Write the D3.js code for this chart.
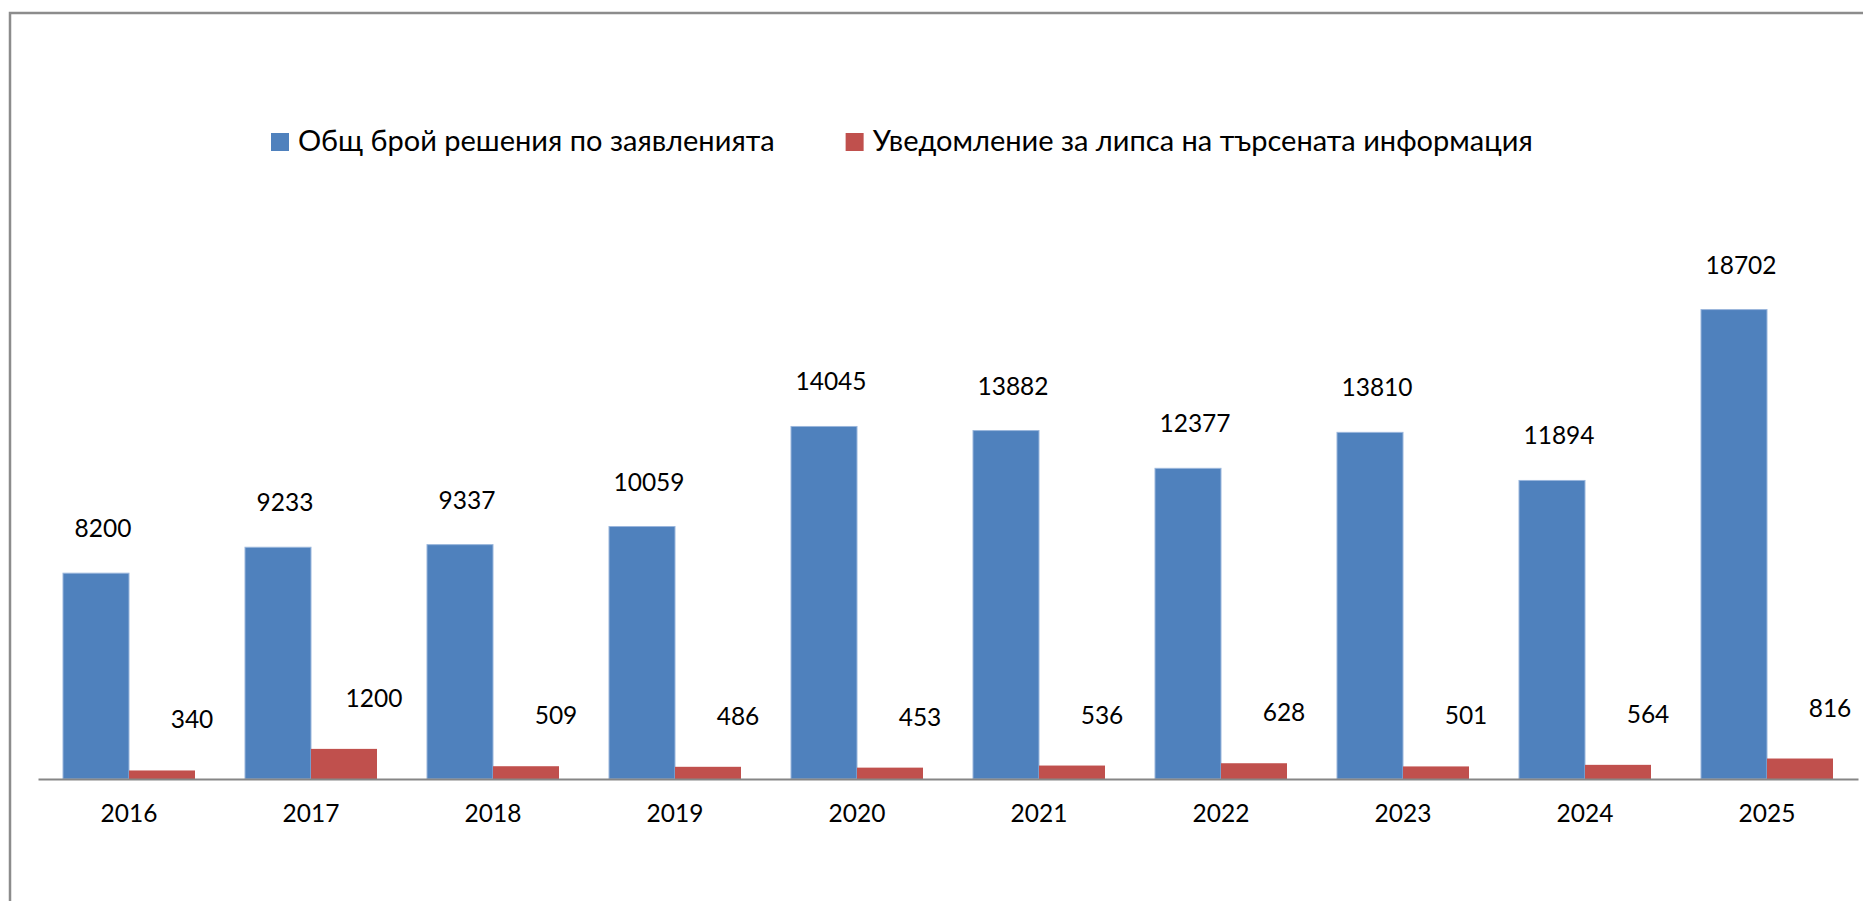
<!DOCTYPE html>
<html>
<head>
<meta charset="utf-8">
<script src="https://cdn.jsdelivr.net/npm/d3@7"></script>
<style>
  html, body { margin: 0; padding: 0; background: #fff; overflow: hidden; }
  svg { display: block; font-family: Lato, "Noto Sans", sans-serif; }
  .axis path { stroke: #868686; stroke-width: 2; }
  .axis text { font-size: 24.5px; fill: #000; font-family: Lato, "Noto Sans", sans-serif; }
</style>
</head>
<body>
<div class="chart"></div>
<script>
// data
var years = ["2016", "2017", "2018", "2019", "2020", "2021", "2022", "2023", "2024", "2025"];
var totalDecisions = [8200, 9233, 9337, 10059, 14045, 13882, 12377, 13810, 11894, 18702];
var missingInfo = [340, 1200, 509, 486, 453, 536, 628, 501, 564, 816];
var seriesNames = ["Общ брой решения по заявленията", "Уведомление за липса на търсената информация"];
var seriesColors = ["#4F81BD", "#C0504D"];

var W = 1863, H = 901;
var plot = {left: 38, right: 1858, bottom: 779, top: 277};

var rows = years.map(function(y, i) {
  return {year: y, values: [totalDecisions[i], missingInfo[i]]};
});

var svg = d3.select(".chart").append("svg")
    .attr("width", W)
    .attr("height", H);

svg.append("rect")
    .attr("width", W).attr("height", H)
    .attr("fill", "#fff");

// chart area border (right / bottom edges fall outside the picture)
svg.append("rect")
    .attr("x", 10).attr("y", 13)
    .attr("width", W + 40).attr("height", H + 40)
    .attr("fill", "none")
    .attr("stroke", "#8c8c8c")
    .attr("stroke-width", 2.5);

// scales
var x0 = d3.scaleBand()
    .domain(years)
    .range([plot.left, plot.right])
    .paddingInner(50 / 182)
    .paddingOuter(25 / 182);

var x1 = d3.scaleBand()
    .domain([0, 1])
    .range([0, x0.bandwidth()]);

var y = d3.scaleLinear()
    .domain([0, 20000])
    .range([plot.bottom, plot.top]);

// bars
var groups = svg.selectAll(".grp")
    .data(rows)
  .enter().append("g")
    .attr("class", "grp")
    .attr("transform", function(d) { return "translate(" + x0(d.year) + ",0)"; });

groups.selectAll("rect")
    .data(function(d) { return d.values.map(function(v, k) { return {k: k, v: v}; }); })
  .enter().append("rect")
    .attr("x", function(d) { return x1(d.k); })
    .attr("y", function(d) { return y(d.v); })
    .attr("width", x1.bandwidth())
    .attr("height", function(d) { return y(0) - y(d.v); })
    .attr("fill", function(d) { return seriesColors[d.k]; })
    .attr("stroke", function(d) { return d.k === 0 ? "#9ab6dc" : "none"; })
    .attr("stroke-width", 1);

// value labels (moved off the bars like in the original)
var labelDx = [7, 30], labelDy = [36, 42];
groups.selectAll("text")
    .data(function(d) { return d.values.map(function(v, k) { return {k: k, v: v}; }); })
  .enter().append("text")
    .attr("x", function(d) { return x1(d.k) + x1.bandwidth() / 2 + labelDx[d.k]; })
    .attr("y", function(d) { return y(d.v) - labelDy[d.k]; })
    .attr("text-anchor", "middle")
    .attr("font-size", "24.5px")
    .attr("fill", "#000")
    .text(function(d) { return d.v; });

// x axis
svg.append("g")
    .attr("class", "axis")
    .attr("transform", "translate(0," + plot.bottom + ")")
    .call(d3.axisBottom(x0).tickSize(0).tickSizeOuter(0).tickPadding(26))
    .call(function(g) { g.selectAll(".tick line").remove(); });

// legend
var legend = svg.append("g").attr("transform", "translate(271,133)");
var lx = 0;
seriesNames.forEach(function(name, k) {
  var item = legend.append("g").attr("transform", "translate(" + lx + ",0)");
  item.append("rect")
      .attr("width", 18).attr("height", 18)
      .attr("fill", seriesColors[k]);
  var t = item.append("text")
      .attr("x", 27)
      .attr("y", 18)
      .attr("font-size", "29px")
      .attr("fill", "#000")
      .text(name);
  lx += 27 + t.node().getComputedTextLength() + 71;
});
</script>
</body>
</html>
